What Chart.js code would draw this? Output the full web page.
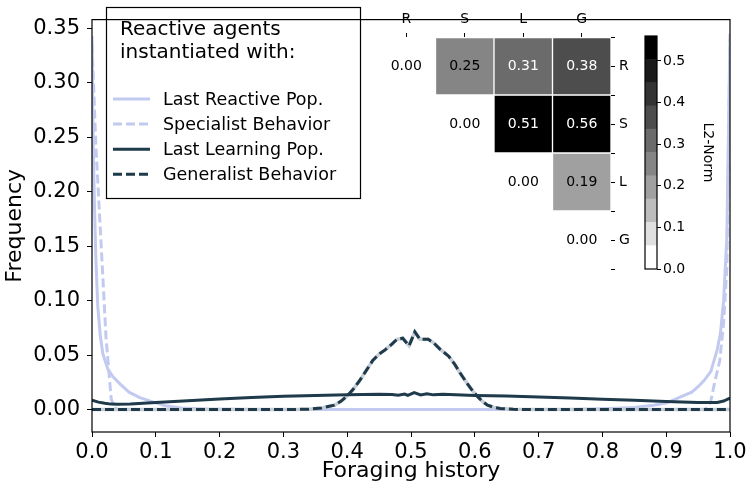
<!DOCTYPE html>
<html lang="en">
<head>
<meta charset="UTF-8">
<title>Foraging history</title>
<script src="https://cdn.jsdelivr.net/npm/chart.js"></script>
<style>
  body { margin: 0; background: #fff; }
  #wrap { position: relative; width: 750px; height: 492px; }
  canvas { position: absolute; top: 0; }
  #main { left: 0; }
  #matrix { left: 360px; }
  #cbar { left: 620px; }
</style>
</head>
<body>
<div id="wrap">
  <canvas id="main" width="750" height="492"></canvas>
  <canvas id="matrix" width="280" height="290"></canvas>
  <canvas id="cbar" width="100" height="290"></canvas>
</div>
<script>
// ---- data ----
const yTicks = [0, 0.05, 0.10, 0.15, 0.20, 0.25, 0.30, 0.35];
const xTicks = [0, 0.1, 0.2, 0.3, 0.4, 0.5, 0.6, 0.7, 0.8, 0.9, 1.0];

// Last Reactive Pop.
const reactiveX = [0, 0.002, 0.004, 0.006, 0.009, 0.013, 0.017, 0.025, 0.033, 0.043, 0.058, 0.075, 0.095, 0.115, 0.14, 0.18, 0.25,
                   0.5, 0.75, 0.8, 0.85, 0.88, 0.9, 0.92, 0.94, 0.95, 0.96, 0.97, 0.98, 0.985, 0.99, 0.995, 1.0];
const reactiveY = [0.343, 0.24, 0.184, 0.14, 0.095, 0.068, 0.051, 0.037, 0.030, 0.024, 0.016, 0.011, 0.007, 0.0035, 0.0015, 0.0005, 0,
                   0, 0, 0.0007, 0.002, 0.004, 0.006, 0.011, 0.016, 0.021, 0.027, 0.035, 0.055, 0.07, 0.10, 0.157, 0.345];

// Specialist Behavior
const specialistX = [0, 0.006, 0.014, 0.022, 0.03, 0.035, 0.04, 0.5, 0.96, 0.965, 0.97, 0.976, 0.984, 0.99, 0.995, 1.0];
const specialistY = [0.335, 0.243, 0.155, 0.066, 0.010, 0.002, 0, 0, 0, 0.002, 0.008, 0.025, 0.045, 0.08, 0.13, 0.34];

// Last Learning Pop.
const learningX = [0, 0.01, 0.02, 0.03, 0.04, 0.06, 0.1, 0.15, 0.2, 0.25, 0.3, 0.35, 0.4, 0.45, 0.47, 0.48, 0.49, 0.495,
                   0.505, 0.515, 0.525, 0.535, 0.55, 0.6, 0.65, 0.7, 0.75, 0.8, 0.85, 0.9, 0.95, 0.98, 0.99, 1.0];
const learningY = [0.0085, 0.0068, 0.0058, 0.005, 0.0048, 0.005, 0.0065, 0.008, 0.0098, 0.011, 0.0122, 0.013, 0.0135, 0.014, 0.0138, 0.0132, 0.0142, 0.013,
                   0.0155, 0.0135, 0.0145, 0.0135, 0.014, 0.013, 0.0124, 0.0115, 0.0105, 0.0095, 0.0085, 0.0075, 0.0065, 0.0065, 0.0078, 0.0105];

// Generalist Behavior (a pale line sits under the same curve)
const generalistX = [0, 0.3, 0.34, 0.36, 0.38, 0.39, 0.40, 0.41, 0.42, 0.43, 0.44, 0.45, 0.46, 0.47, 0.478, 0.487, 0.497, 0.506,
                     0.514, 0.527, 0.536, 0.545, 0.559, 0.568, 0.577, 0.588, 0.598, 0.606, 0.613, 0.62, 0.63, 0.64, 0.66, 0.7, 1.0];
const generalistY = [0, 0, 0.0003, 0.0015, 0.004, 0.0075, 0.0125, 0.019, 0.027, 0.036, 0.045, 0.051, 0.055, 0.060, 0.0645, 0.0655, 0.0586, 0.0713,
                     0.0645, 0.0645, 0.061, 0.0557, 0.049, 0.042, 0.0336, 0.024, 0.016, 0.011, 0.007, 0.004, 0.002, 0.001, 0.0002, 0, 0];

const legendTitle = ['Reactive agents', 'instantiated with:'];

// L2-norm matrix (upper triangle)
const matrixLabels = ['R', 'S', 'L', 'G'];
const rowR = [0.00, 0.25, 0.31, 0.38];
const rowS = [null, 0.00, 0.51, 0.56];
const rowL = [null, null, 0.00, 0.19];
const rowG = [null, null, null, 0.00];
const matrixValues = [rowR, rowS, rowL, rowG];

// colorbar
const cbarEdges = [0, 0.056, 0.112, 0.168, 0.224, 0.28, 0.336, 0.392, 0.448, 0.504, 0.56];
const cbarTicks = [0, 0.1, 0.2, 0.3, 0.4, 0.5];
const bandColors = ['#ffffff', '#e0e0e0', '#bdbdbd', '#a0a0a0', '#858585', '#6b6b6b', '#4d4d4d', '#333333', '#1a1a1a', '#000000'];

const LIGHT = '#c2caef';
const DARK = '#1e3a4b';
const FONT = '"DejaVu Sans"';

Chart.defaults.font.family = FONT;
Chart.defaults.color = '#000';

function pts(xs, ys) { return xs.map((x, i) => ({ x: x, y: ys[i] })); }

function bandIndex(v) {
  let i = 0;
  while (i < bandColors.length - 1 && v >= cbarEdges[i + 1]) i++;
  return i;
}

// frame around plot area
const frame = {
  id: 'frame',
  afterDraw(chart) {
    const { ctx, chartArea: a } = chart;
    ctx.save();
    ctx.strokeStyle = '#000';
    ctx.lineWidth = 1.2;
    ctx.strokeRect(a.left, a.top, a.right - a.left, a.bottom - a.top);
    ctx.restore();
  }
};

// legend box with the two-line title
const legendBox = {
  id: 'legendBox',
  afterDatasetsDraw(chart) {
    const c = chart.ctx;
    c.save();
    c.fillStyle = '#fff';
    c.fillRect(106.5, 7.5, 254, 191);
    c.strokeStyle = '#000';
    c.lineWidth = 1.2;
    c.strokeRect(106.5, 7.5, 254, 191);
    c.fillStyle = '#000';
    c.font = '20px ' + FONT;
    legendTitle.forEach((t, i) => c.fillText(t, 120, 35 + i * 22.5));
    c.font = '17.5px ' + FONT;
    chart.data.datasets.filter(d => d.label).forEach((d, i) => {
      const y = 99 + i * 25.1;
      c.beginPath();
      c.strokeStyle = d.borderColor;
      c.lineWidth = d.borderWidth;
      c.setLineDash(d.borderDash || []);
      c.moveTo(113, y);
      c.lineTo(150, y);
      c.stroke();
      c.setLineDash([]);
      c.fillStyle = '#000';
      c.fillText(d.label, 163, y + 5.5);
    });
    c.restore();
  }
};

new Chart(document.getElementById('main'), {
  type: 'line',
  data: {
    datasets: [
      { label: 'Last Reactive Pop.', data: pts(reactiveX, reactiveY), borderColor: LIGHT, borderWidth: 3, order: 4 },
      { label: 'Specialist Behavior', data: pts(specialistX, specialistY), borderColor: LIGHT, borderWidth: 3, borderDash: [9, 4], order: 3 },
      { label: 'Last Learning Pop.', data: pts(learningX, learningY), borderColor: DARK, borderWidth: 3, order: 1 },
      { label: 'Generalist Behavior', data: pts(generalistX, generalistY), borderColor: DARK, borderWidth: 3, borderDash: [9, 4], order: 0 },
      { label: '', data: pts(generalistX, generalistY), borderColor: '#c6cdd6', borderWidth: 3.5, order: 2 }
    ]
  },
  options: {
    responsive: false,
    animation: false,
    events: [],
    elements: { point: { radius: 0 }, line: { tension: 0, fill: false } },
    layout: { padding: { top: 3, right: 20, left: 0, bottom: 0 } },
    plugins: { legend: { display: false }, tooltip: { enabled: false } },
    scales: {
      x: {
        type: 'linear', min: 0, max: 1,
        afterBuildTicks: s => { s.ticks = xTicks.map(v => ({ value: v })); },
        afterFit: s => { s.height = 60; },
        ticks: { font: { size: 21 }, padding: 3, maxRotation: 0, autoSkip: false, callback: v => v.toFixed(1) },
        grid: { drawOnChartArea: false, tickLength: 5, color: '#000' },
        border: { display: false },
        title: { display: true, text: 'Foraging history', font: { size: 22 }, padding: { top: 0, bottom: 8 } }
      },
      y: {
        type: 'linear', min: -0.0206, max: 0.358,
        afterBuildTicks: s => { s.ticks = yTicks.map(v => ({ value: v })); },
        afterFit: s => { s.width = 92; },
        ticks: { font: { size: 21 }, padding: 7, autoSkip: false, callback: v => v.toFixed(2) },
        grid: { drawOnChartArea: false, tickLength: 5, color: '#000' },
        border: { display: false },
        title: { display: true, text: 'Frequency', font: { size: 22 }, padding: { top: 2, bottom: 0 } }
      }
    }
  },
  plugins: [legendBox, frame]
});

// ---- inset: L2-norm matrix ----
const cellText = {
  id: 'cellText',
  afterDatasetsDraw(chart) {
    const { ctx, scales: { x, y } } = chart;
    ctx.save();
    ctx.font = '14px ' + FONT;
    ctx.textAlign = 'center';
    ctx.textBaseline = 'middle';
    matrixValues.forEach((row, r) => row.forEach((v, c) => {
      if (v === null) return;
      ctx.fillStyle = bandIndex(v) >= 5 ? '#fff' : '#000';
      ctx.fillText(v.toFixed(2), x.getPixelForValue(c), y.getPixelForValue(r + 0.5));
    }));
    ctx.restore();
  }
};

new Chart(document.getElementById('matrix'), {
  type: 'bar',
  data: {
    labels: matrixLabels,
    datasets: matrixValues.map((row, r) => ({
      data: row.map(v => (v === null ? null : [r, r + 1])),
      backgroundColor: ctx => bandColors[bandIndex(row[ctx.dataIndex] || 0)],
      borderColor: '#fff',
      borderWidth: 1,
      borderSkipped: false,
      grouped: false,
      barPercentage: 1,
      categoryPercentage: 1
    }))
  },
  options: {
    responsive: false,
    animation: false,
    events: [],
    layout: { padding: { left: 17, bottom: 21, top: 0, right: 0 } },
    plugins: { legend: { display: false }, tooltip: { enabled: false } },
    scales: {
      x: {
        type: 'category', position: 'top', offset: true,
        afterFit: s => { s.height = 37; },
        ticks: { font: { size: 14 }, padding: 5, maxRotation: 0 },
        grid: { offset: false, drawOnChartArea: false, tickLength: 4, color: '#000' },
        border: { display: false }
      },
      y: {
        type: 'linear', position: 'right', reverse: true, min: 0, max: 4,
        afterBuildTicks: s => { s.ticks = [0, 0.5, 1, 1.5, 2, 2.5, 3, 3.5, 4].map(v => ({ value: v })); },
        afterFit: s => { s.width = 29; },
        ticks: {
          font: { size: 14 }, padding: 4, autoSkip: false,
          callback: v => (Number.isInteger(v - 0.5) ? matrixLabels[v - 0.5] : '')
        },
        grid: { drawOnChartArea: false, tickLength: 4, color: '#000' },
        border: { display: false }
      }
    }
  },
  plugins: [cellText]
});

// ---- inset: colorbar ----
new Chart(document.getElementById('cbar'), {
  type: 'bar',
  data: {
    labels: [''],
    datasets: bandColors.map((col, i) => ({
      data: [[cbarEdges[i], cbarEdges[i + 1]]],
      backgroundColor: col,
      borderWidth: 0,
      grouped: false,
      barPercentage: 1,
      categoryPercentage: 1
    }))
  },
  options: {
    responsive: false,
    animation: false,
    events: [],
    layout: { padding: { left: 25, top: 36, bottom: 21, right: 0 } },
    plugins: { legend: { display: false }, tooltip: { enabled: false } },
    scales: {
      x: { display: false },
      y: {
        type: 'linear', position: 'right', min: 0, max: 0.56,
        afterBuildTicks: s => { s.ticks = cbarTicks.map(v => ({ value: v })); },
        afterFit: s => { s.width = 63; },
        ticks: { font: { size: 14 }, padding: 2, autoSkip: false, callback: v => v.toFixed(1) },
        grid: { drawOnChartArea: false, tickLength: 4, color: '#000' },
        border: { display: false },
        title: { display: true, text: 'L2-Norm', font: { size: 14 }, padding: { top: 4, bottom: 0 } }
      }
    }
  },
  plugins: [frame]
});
</script>
</body>
</html>
